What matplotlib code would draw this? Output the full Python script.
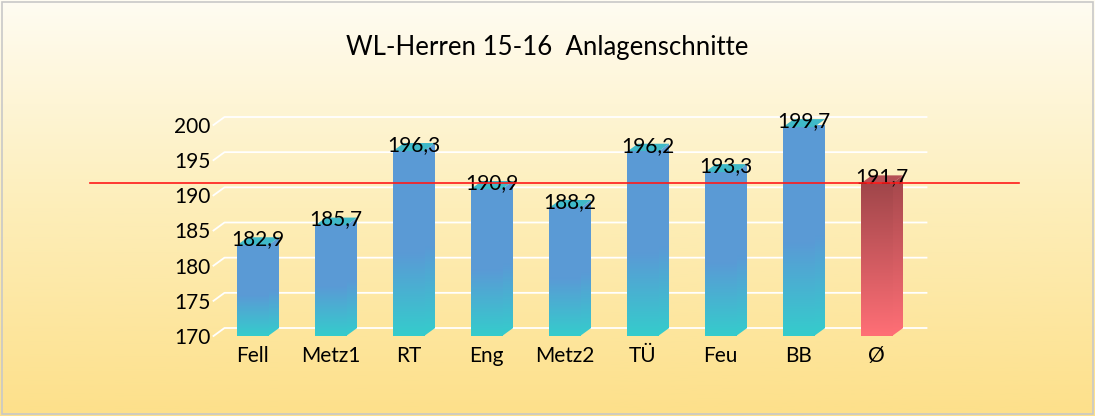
import numpy as np
import matplotlib
matplotlib.use("Agg")
import matplotlib.pyplot as plt
from matplotlib.patches import Polygon, Rectangle
from matplotlib.colors import LinearSegmentedColormap

plt.rcParams['font.family'] = ['Lato', 'DejaVu Sans']

categories = ['Fell', 'Metz1', 'RT', 'Eng', 'Metz2', 'TÜ', 'Feu', 'BB', 'Ø']
values = [182.9, 185.7, 196.3, 190.9, 188.2, 196.2, 193.3, 199.7, 191.7]
mean_value = 191.7
y_ticks = [170, 175, 180, 185, 190, 195, 200]
title = 'WL-Herren 15-16  Anlagenschnitte'

W, H = 1095, 416
fig = plt.figure(figsize=(W / 100, H / 100), dpi=100)

# background gradient (white-ish top -> warm yellow bottom)
bg = fig.add_axes([0, 0, 1, 1], zorder=-10)
bg_cmap = LinearSegmentedColormap.from_list('bg', ['#fde08a', '#fdeeb9', '#fffcf2'])
bg.imshow(np.linspace(0, 1, 256).reshape(-1, 1), cmap=bg_cmap, aspect='auto',
          origin='lower', extent=[0, 1, 0, 1])
bg.set_xlim(0, 1)
bg.set_ylim(0, 1)
bg.axis('off')
fig.patches.append(Rectangle((0.002, 0.005), 0.996, 0.99, transform=fig.transFigure,
                             fill=False, edgecolor='#c8c8c8', lw=1.2))

# plot area in front-plane coordinates: 170 -> y=336px, 200 -> y=125px
left, right, bottom, top = 213.5, 915.5, 336, 125
ax = fig.add_axes([left / W, (H - bottom) / H, (right - left) / W, (bottom - top) / H])
ax.patch.set_alpha(0)
ax.set_xlim(-0.5, len(categories) - 0.5)
ax.set_ylim(170, 200)
for s in ax.spines.values():
    s.set_visible(False)

# 3d depth in data units (about 11px right, 8px up)
px_x = len(categories) / (right - left)
px_y = 30 / (bottom - top)
DX, DY = 11 * px_x, 8 * px_y

# back-wall gridlines with small floor diagonal on the left
for t in y_ticks:
    ax.plot([-0.5, -0.5 + DX, len(categories) - 0.5 + DX],
            [t, t + DY, t + DY], color='white', lw=1.3, clip_on=False, zorder=1)

blue_cmap = LinearSegmentedColormap.from_list('blue', [(0, '#35cccc'), (0.45, '#5a9ad6'), (1, '#5b9bd5')])
red_cmap = LinearSegmentedColormap.from_list('red', [(0, '#ff6f76'), (1, '#a0464a')])
grad = np.linspace(0, 1, 256).reshape(-1, 1)

bw = 0.2
for i, (cat, v) in enumerate(zip(categories, values)):
    cmap = red_cmap if cat == 'Ø' else blue_cmap
    top_col = '#b55055' if cat == 'Ø' else '#3fb9c8'
    x0, x1 = i - bw, i + bw
    # side face
    side = Polygon([[x1, 170], [x1 + DX, 170 + DY], [x1 + DX, v + DY], [x1, v]],
                   closed=True, facecolor='none', edgecolor='none')
    ax.add_patch(side)
    im = ax.imshow(grad * 0.97, cmap=cmap, aspect='auto', origin='lower',
                   extent=[x1, x1 + DX, 170, v + DY], zorder=2, vmin=0, vmax=1)
    im.set_clip_path(side)
    # top face
    ax.add_patch(Polygon([[x0, v], [x0 + DX, v + DY], [x1 + DX, v + DY], [x1, v]],
                         closed=True, facecolor=top_col, edgecolor='none', zorder=3,
                         clip_on=False))
    # front face
    ax.imshow(grad, cmap=cmap, aspect='auto', origin='lower',
              extent=[x0, x1, 170, v], zorder=3, vmin=0, vmax=1)
    ax.text(i + DX / 2, v, f'{v:.1f}'.replace('.', ','), ha='center', va='baseline',
            fontsize=15, color='black', zorder=5, clip_on=False)

ax.set_xlim(-0.5, len(categories) - 0.5)
ax.set_ylim(170, 200)

# mean line across the whole chart
ax.plot([-0.176, 1.147], [mean_value, mean_value], color='#ff1a1a', lw=1.2,
        transform=ax.get_yaxis_transform(), clip_on=False, zorder=6)

ax.set_xticks(range(len(categories)))
ax.set_xticklabels(categories, fontsize=15)
ax.set_yticks(y_ticks)
ax.set_yticklabels([str(t) for t in y_ticks], fontsize=15)
ax.tick_params(length=0)
ax.tick_params(axis='x', pad=7)
ax.tick_params(axis='y', pad=2)

fig.text(547 / W, 1 - 47 / H, title, ha='center', va='center', fontsize=18.5)

fig.savefig('out.png', dpi=100)
